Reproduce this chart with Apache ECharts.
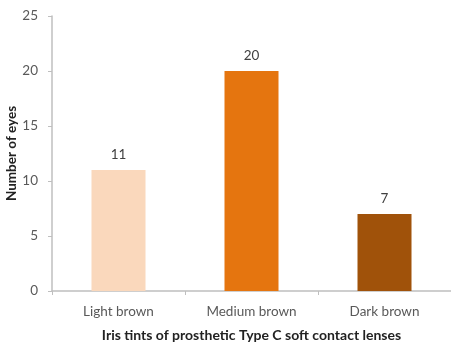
<!DOCTYPE html>
<html><head><meta charset="utf-8">
<script src="https://cdn.jsdelivr.net/npm/echarts@6/dist/echarts.min.js"></script>
<style>html,body{margin:0;padding:0;background:#fff}#c{width:451px;height:342px}</style>
</head><body><div id="c"></div>
<script>
const categories = ['Light brown', 'Medium brown', 'Dark brown'];
const values = [11, 20, 7];
const barColors = ['#FAD8BC', '#E5750F', '#A0520A'];
const yTicks = [0, 5, 10, 15, 20, 25];

const chart = echarts.init(document.getElementById('c'));
const font = 'Lato, "Open Sans", sans-serif';
chart.setOption({
  animation: false,
  grid: { left: 52, right: 0, top: 16, bottom: 51, containLabel: false, outerBoundsMode: 'none' },
  xAxis: {
    type: 'category', data: categories,
    name: 'Iris tints of prosthetic Type C soft contact lenses',
    nameLocation: 'middle', nameGap: 37, nameMoveOverlap: false,
    nameTextStyle: { fontFamily: font, fontWeight: 'bold', fontSize: 14, color: '#222' },
    axisLine: { lineStyle: { color: '#BFBFBF', width: 1.5 } },
    axisTick: { show: true, length: 4, lineStyle: { color: '#BFBFBF' } },
    axisLabel: { fontFamily: font, fontSize: 13.5, color: '#595959', margin: 14 }
  },
  yAxis: {
    type: 'value', min: yTicks[0], max: yTicks[yTicks.length - 1], interval: 5,
    name: 'Number of eyes', nameLocation: 'middle', nameGap: 33, nameMoveOverlap: false,
    nameTextStyle: { fontFamily: font, fontWeight: 'bold', fontSize: 13.5, color: '#222' },
    axisLine: { show: true, lineStyle: { color: '#BFBFBF', width: 1.5 } },
    axisTick: { show: true, length: 4, lineStyle: { color: '#BFBFBF' } },
    splitLine: { show: false },
    axisLabel: { fontFamily: font, fontSize: 13.5, color: '#595959', margin: 14 }
  },
  series: [{
    type: 'bar', barWidth: 54,
    data: values.map((v, i) => ({ value: v, itemStyle: { color: barColors[i] } })),
    label: { show: true, position: 'top', distance: 8, fontFamily: font, fontSize: 13.5, color: '#404040' }
  }]
});
</script></body></html>
